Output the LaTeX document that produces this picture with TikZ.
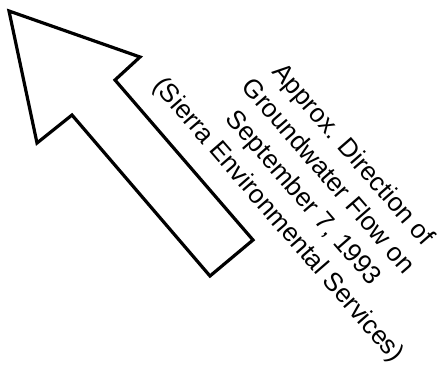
\documentclass[tikz,border=0pt]{standalone}
\usepackage{fontspec}
\setmainfont{Liberation Sans}
\begin{document}
\begin{tikzpicture}[x=1pt, y=-1pt]
\useasboundingbox (0,0) rectangle (442,375);
% flow arrow
\draw[line width=3.2pt] (9,11)--(140,57)--(115,80)--(253,240)--(210,276)--(72,115)--(37,143)--cycle;
% label
\node[rotate=-49, align=center, inner sep=0pt, font=\fontsize{26}{33}\selectfont] (flowlabel) at (315,188)
    {Approx. Direction of\\Groundwater Flow on\\September 7, 1993\\(Sierra Environmental Services)};
\end{tikzpicture}
\end{document}
